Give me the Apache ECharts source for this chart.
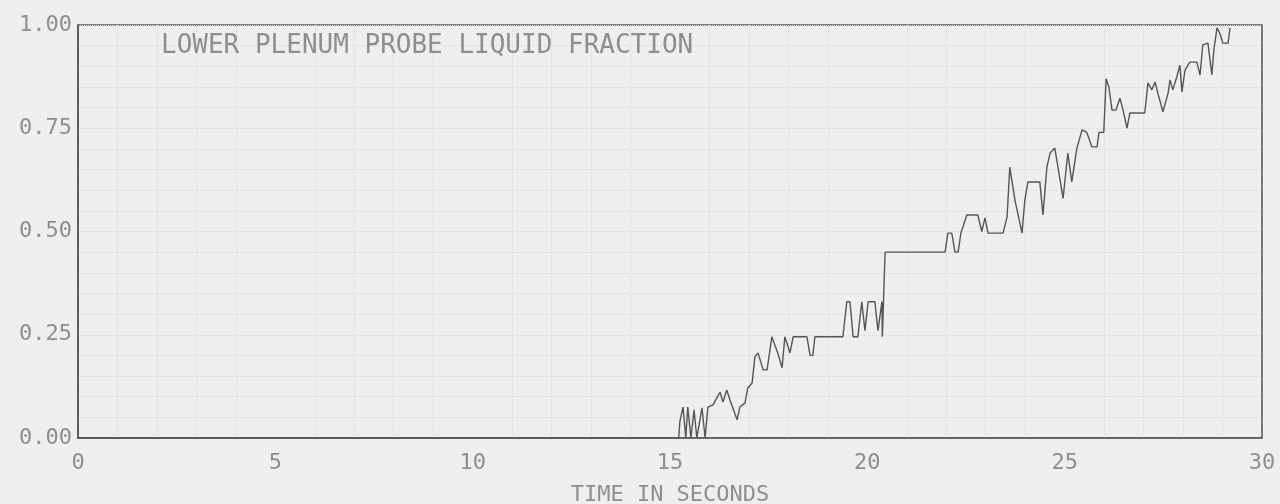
<!DOCTYPE html>
<html>
<head>
<meta charset="utf-8">
<title>Lower Plenum Probe Liquid Fraction</title>
<script src="https://cdn.jsdelivr.net/npm/echarts@6/dist/echarts.min.js"></script>
<style>
  html, body { margin: 0; padding: 0; background: #eeeeee; }
  #chart { width: 1280px; height: 504px; }
</style>
</head>
<body>
<div id="chart"></div>
<script>
// Probe trace: time (s) and liquid fraction
const timeSec = [
  0, 15.22, 15.25, 15.33, 15.40, 15.45, 15.53, 15.61, 15.68, 15.73, 15.81, 15.89, 15.96,
  16.09, 16.27, 16.34, 16.44, 16.52, 16.70, 16.77, 16.90, 16.97, 17.08, 17.15, 17.23,
  17.36, 17.46, 17.58, 17.73, 17.84, 17.91, 18.04, 18.12, 18.47, 18.55, 18.62, 18.67,
  19.38, 19.48, 19.56, 19.64, 19.76, 19.86, 19.94, 20.02, 20.19, 20.27, 20.37, 20.38,
  20.45, 21.97, 22.04, 22.14, 22.22, 22.30, 22.37, 22.52, 22.80, 22.90, 22.98, 23.06,
  23.44, 23.54, 23.61, 23.74, 23.92, 23.99, 24.07, 24.37, 24.45, 24.55, 24.63, 24.75,
  24.83, 24.96, 25.08, 25.18, 25.31, 25.44, 25.56, 25.69, 25.82, 25.87, 25.99, 26.05,
  26.12, 26.20, 26.30, 26.40, 26.48, 26.58, 26.65, 27.03, 27.11, 27.21, 27.29, 27.36,
  27.49, 27.62, 27.67, 27.74, 27.84, 27.92, 27.97, 28.05, 28.17, 28.35, 28.43, 28.50,
  28.63, 28.73, 28.78, 28.86, 28.93, 29.01, 29.14, 29.19
];
const liquidFraction = [
  0, 0, 0.04, 0.075, 0, 0.075, 0, 0.068, 0, 0, 0.073, 0, 0.075,
  0.08, 0.111, 0.087, 0.116, 0.092, 0.044, 0.075, 0.085, 0.121, 0.133, 0.196, 0.206,
  0.165, 0.165, 0.245, 0.206, 0.17, 0.245, 0.206, 0.245, 0.245, 0.20, 0.20, 0.245,
  0.245, 0.33, 0.33, 0.245, 0.245, 0.33, 0.26, 0.33, 0.33, 0.26, 0.33, 0.245,
  0.45, 0.45, 0.496, 0.496, 0.45, 0.45, 0.496, 0.54, 0.54, 0.50, 0.533, 0.496,
  0.496, 0.535, 0.656, 0.576, 0.496, 0.576, 0.62, 0.62, 0.54, 0.656, 0.69, 0.702,
  0.656, 0.58, 0.69, 0.62, 0.702, 0.746, 0.74, 0.705, 0.705, 0.74, 0.74, 0.87,
  0.85, 0.794, 0.794, 0.823, 0.794, 0.75, 0.787, 0.787, 0.86, 0.843, 0.862, 0.835,
  0.79, 0.835, 0.867, 0.843, 0.874, 0.903, 0.838, 0.891, 0.91, 0.91, 0.879, 0.952,
  0.956, 0.879, 0.94, 0.993, 0.98, 0.956, 0.956, 0.993
];

const chartTitle = 'LOWER PLENUM PROBE LIQUID FRACTION';
const xAxisName = 'TIME IN SECONDS';

const plotterFont = 'DejaVu Sans Mono';
const inkColor = '#555555';
const textColor = '#8e8e8e';
const gridColor = '#d9d9d9';

const chart = echarts.init(document.getElementById('chart'), null, { renderer: 'canvas' });

chart.setOption({
  backgroundColor: '#eeeeee',
  animation: false,
  title: {
    text: chartTitle,
    left: 156,
    top: 28,
    textStyle: {
      fontFamily: plotterFont,
      fontSize: 26,
      fontWeight: 'normal',
      color: textColor
    }
  },
  grid: {
    left: 78,
    right: 18,
    top: 25,
    bottom: 66,
    containLabel: false,
    outerBoundsMode: 'none',
    show: true,
    borderColor: inkColor,
    borderWidth: 1.5,
    backgroundColor: 'transparent'
  },
  xAxis: {
    type: 'value',
    min: 0,
    max: 30,
    interval: 5,
    name: xAxisName,
    nameLocation: 'middle',
    nameGap: 46,
    nameTextStyle: {
      fontFamily: plotterFont,
      fontSize: 22,
      color: textColor
    },
    axisLine: { show: true, lineStyle: { color: inkColor, width: 1.5 } },
    axisTick: { show: false },
    axisLabel: {
      fontFamily: plotterFont,
      fontSize: 22,
      color: textColor,
      margin: 14
    },
    splitLine: { show: false },
    minorTick: { show: false, splitNumber: 5 },
    minorSplitLine: { show: true, lineStyle: { color: gridColor, type: 'dotted', width: 1 } }
  },
  yAxis: {
    type: 'value',
    min: 0,
    max: 1,
    interval: 0.25,
    axisLine: { show: true, lineStyle: { color: inkColor, width: 1.5 } },
    axisTick: { show: false },
    axisLabel: {
      fontFamily: plotterFont,
      fontSize: 22,
      color: textColor,
      margin: 6,
      formatter: v => v.toFixed(2)
    },
    splitLine: { show: true, lineStyle: { color: gridColor, type: 'dotted', width: 1 } },
    minorTick: { show: false, splitNumber: 5 },
    minorSplitLine: { show: true, lineStyle: { color: gridColor, type: 'dotted', width: 1 } }
  },
  series: [{
    type: 'line',
    data: timeSec.map((t, i) => [t, liquidFraction[i]]),
    showSymbol: false,
    symbol: 'none',
    lineStyle: { color: inkColor, width: 1.4 },
    z: 3
  }]
});
</script>
</body>
</html>
